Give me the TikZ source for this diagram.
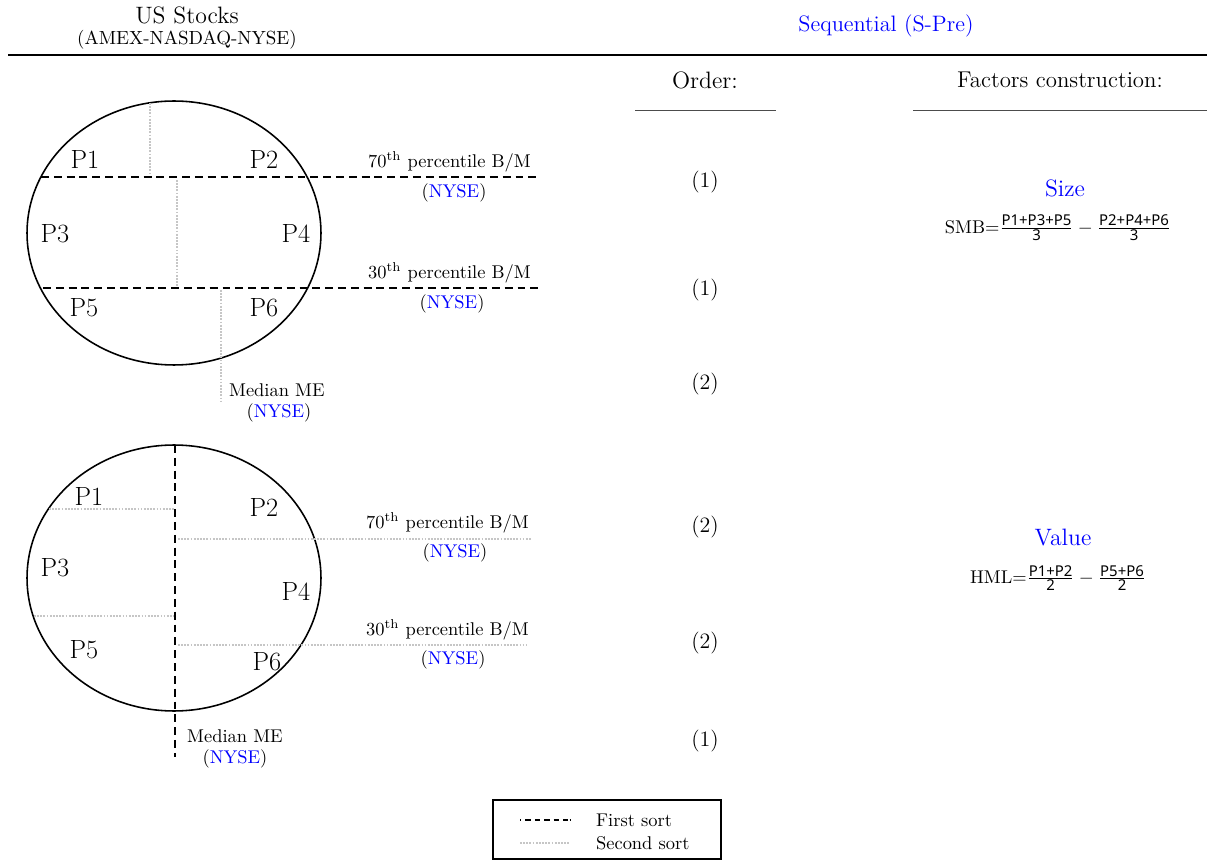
\documentclass[tikz,border=0pt]{standalone}
\usepackage{amsmath}
\usepackage{fontspec}
\newfontfamily\fracfont{Noto Sans}
\newcommand{\nyse}{(\textcolor{blue}{NYSE})}
\newcommand{\pfrac}[2]{\frac{\mbox{\fracfont\fontsize{8.5}{10}\selectfont #1}}{\mbox{\fracfont\fontsize{8.5}{10}\selectfont #2}}}
\tikzset{
  firstsort/.style={draw=black, line width=0.8pt, dash pattern=on 4.5pt off 2.8pt},
  secondsort/.style={draw=gray!45, line width=1.7pt, dash pattern=on 1pt off 0.8pt},
  rim/.style={draw=black, line width=0.9pt},
  plabel/.style={font=\fontsize{15}{17}\selectfont},
  breaktext/.style={font=\fontsize{10.5}{12.5}\selectfont, inner sep=1pt},
  ordertext/.style={font=\fontsize{12.5}{15}\selectfont},
  headtext/.style={font=\fontsize{13.5}{16}\selectfont},
}
\begin{document}
\begin{tikzpicture}[x=0.02cm, y=-0.02cm]
	\useasboundingbox (0,0) rectangle (1207,861);
	% Header and column titles:
	\node[headtext] (us) at (187,15){US Stocks};
	\node[font=\fontsize{10.8}{12}\selectfont] (exch) at (187,40){(AMEX-NASDAQ-NYSE)};
	\node[headtext, font=\fontsize{12.7}{15}\selectfont, text=blue] (seq) at (886,26){Sequential (S-Pre)};
	\coordinate (ruleL) at (8,55); \coordinate (ruleR) at (1207,55);
	\draw[line width=0.6pt] (ruleL) -- (ruleR);
	\node[headtext] (order) at (705,80){Order:};
	\node[headtext, font=\fontsize{13}{16}\selectfont] (factors) at (1060,80){Factors construction:};
	\draw[gray!60!black, line width=0.5pt] (635,110) -- (776,110);
	\draw[gray!60!black, line width=0.5pt] (913,110) -- (1207,110);
	% First circle: B/M sorted first
	\coordinate (c1) at (174,233);
	\draw[rim] (c1) ellipse [x radius=2.94cm, y radius=2.64cm];
	\draw[secondsort] (150,103) -- (150,174);
	\draw[firstsort] (41,177) -- (537,177);
	\draw[secondsort] (177,180) -- (177,286);
	\draw[firstsort] (43,288) -- (541,288);
	\draw[secondsort] (221,290) -- (221,401);
	\foreach \lab/\px/\py in {P1/85/160, P2/264/160, P3/55/234, P4/296/234, P5/84/308, P6/264/308}
		\node[plabel] (a\lab) at (\px,\py){\lab};
	\node[breaktext, anchor=east] (ahigh) at (533,162){70\textsuperscript{th} percentile B/M};
	\node[breaktext] (ahighx) at (454,193){\nyse};
	\node[breaktext, anchor=east] (alow) at (533,273){30\textsuperscript{th} percentile B/M};
	\node[breaktext] (alowx) at (452,304){\nyse};
	\node[breaktext, anchor=west] (amed) at (227,390){Median ME};
	\node[breaktext] (amedx) at (279,413){\nyse};
	% Second circle: size sorted first
	\coordinate (c2) at (174,578);
	\draw[rim] (c2) ellipse [x radius=2.94cm, y radius=2.66cm];
	\draw[firstsort] (175,445) -- (175,757);
	\draw[secondsort] (49,509) -- (174,509);
	\draw[secondsort] (178,539) -- (531,539);
	\draw[secondsort] (34,616) -- (174,616);
	\draw[secondsort] (178,645) -- (527,645);
	\foreach \lab/\px/\py in {P1/89/496, P2/264/507, P3/55/568, P4/296/591, P5/84/650, P6/267/662}
		\node[plabel] (b\lab) at (\px,\py){\lab};
	\node[breaktext, anchor=east] (bhigh) at (531,523){70\textsuperscript{th} percentile B/M};
	\node[breaktext] (bhighx) at (455,553){\nyse};
	\node[breaktext, anchor=east] (blow) at (531,630){30\textsuperscript{th} percentile B/M};
	\node[breaktext] (blowx) at (453,660){\nyse};
	\node[breaktext] (bmed) at (235,736){Median ME};
	\node[breaktext] (bmedx) at (235,759){\nyse};
	% Order column
	\foreach \k/\py/\n in {1/182/1, 2/290/1, 3/384/2, 4/527/2, 5/643/2, 6/741/1}
		\node[ordertext] (ord\k) at (705,\py){(\n)};
	% Factors
	\node[headtext, text=blue] (size) at (1065,188){Size};
	\node[breaktext] (smb) at (1058,228){SMB=$\pfrac{P1+P3+P5}{3}-\pfrac{P2+P4+P6}{3}$};
	\node[headtext, text=blue] (value) at (1063,538){Value};
	\node[breaktext] (hml) at (1058,578){HML=$\pfrac{P1+P2}{2}-\pfrac{P5+P6}{2}$};
	% Legend
	\node[draw, line width=0.7pt, minimum width=4.56cm, minimum height=1.18cm] (legend) at (607,829.5){};
	\draw[firstsort, line width=0.6pt, dash pattern=on 0.6pt off 2.4pt on 3pt off 2.4pt on 3pt off 2.4pt on 3pt off 2.4pt on 3pt off 2.4pt on 3pt] (520,820) -- (570,820);
	\draw[secondsort, line width=1.2pt] (520,843) -- (570,843);
	\node[breaktext, anchor=west] (first) at (594,820){First sort};
	\node[breaktext, anchor=west] (second) at (594,843){Second sort};
\end{tikzpicture}
\end{document}
